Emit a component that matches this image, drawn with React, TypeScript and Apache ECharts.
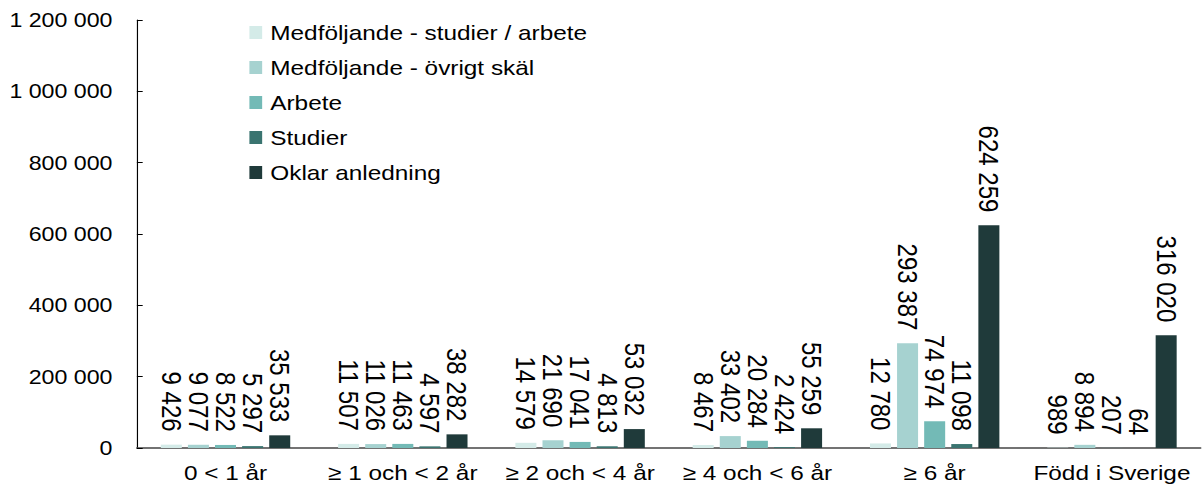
import React, { useEffect, useRef } from "react";
import * as echarts from "echarts";

const categories = ["0 < 1 år", "≥ 1 och < 2 år", "≥ 2 och < 4 år", "≥ 4 och < 6 år", "≥ 6 år", "Född i Sverige"];
const seriesNames = ["Medföljande - studier / arbete", "Medföljande - övrigt skäl", "Arbete", "Studier", "Oklar anledning"];
const medStudArb = [9426, 11507, 14579, 8467, 12780, 989];
const medOvrigt = [9077, 11026, 21690, 33402, 293387, 8894];
const arbete = [8522, 11463, 17041, 20284, 74974, 207];
const studier = [5297, 4597, 4813, 2424, 11098, 64];
const oklar = [35533, 38282, 53032, 55259, 624259, 316020];
const colors = ["#d4ebe8", "#a6d2d0", "#73bab6", "#3a7470", "#1f3a3a"];

const fmt = (v: number) => String(Math.round(v)).replace(/\B(?=(\d{3})+(?!\d))/g, " ");

const K = 1.16;
const W = Math.round(1203 / K);

export default function App() {
  const ref = useRef<HTMLDivElement>(null);
  useEffect(() => {
    if (!ref.current) return;
    const chart = echarts.init(ref.current, null, { renderer: "svg" });
    const font = "Liberation Sans, Arial, sans-serif";
    const data = [medStudArb, medOvrigt, arbete, studier, oklar];
    chart.setOption({
      animation: false,
      textStyle: { fontFamily: font },
      color: colors,
      legend: {
        orient: "vertical",
        left: 210,
        top: 17,
        itemWidth: 11,
        itemHeight: 13,
        itemGap: 14,
        icon: "rect",
        textStyle: { fontSize: 21, color: "#000", fontFamily: font, padding: [0, 0, 0, 2] },
        data: seriesNames,
      },
      grid: { left: 118, right: 2, top: 20, bottom: 41, containLabel: false },
      xAxis: {
        type: "category",
        data: categories,
        axisLine: { lineStyle: { color: "#444", width: 1.5 } },
        axisTick: { inside: true, length: 5, lineStyle: { color: "#000" } },
        axisLabel: { interval: 0, fontSize: 21, color: "#000", margin: 14, fontFamily: font },
      },
      yAxis: {
        type: "value",
        min: 0,
        max: 1200000,
        interval: 200000,
        splitLine: { show: false },
        axisLine: { show: true, lineStyle: { color: "#000", width: 1 } },
        axisTick: { show: true, inside: true, length: 5, lineStyle: { color: "#000" } },
        axisLabel: { fontSize: 20, color: "#000", margin: 21, formatter: (v: number) => fmt(v), fontFamily: font },
      },
      series: seriesNames.map((name, i) => ({
        name,
        type: "bar",
        data: data[i],
        barGap: "29%",
        barCategoryGap: "27%",
        itemStyle: { color: colors[i] },
        label: {
          show: true,
          position: "top",
          rotate: -90,
          align: "right",
          verticalAlign: "middle",
          distance: 13,
          fontSize: 24,
          color: "#000",
          fontFamily: font,
          formatter: (p: any) => fmt(p.value),
        },
      })),
    });
    return () => chart.dispose();
  }, []);
  return (
    <div
      ref={ref}
      style={{
        width: W,
        height: 489,
        position: "absolute",
        left: 0,
        top: 0,
        transform: `scaleX(${K})`,
        transformOrigin: "0 0",
      }}
    />
  );
}
